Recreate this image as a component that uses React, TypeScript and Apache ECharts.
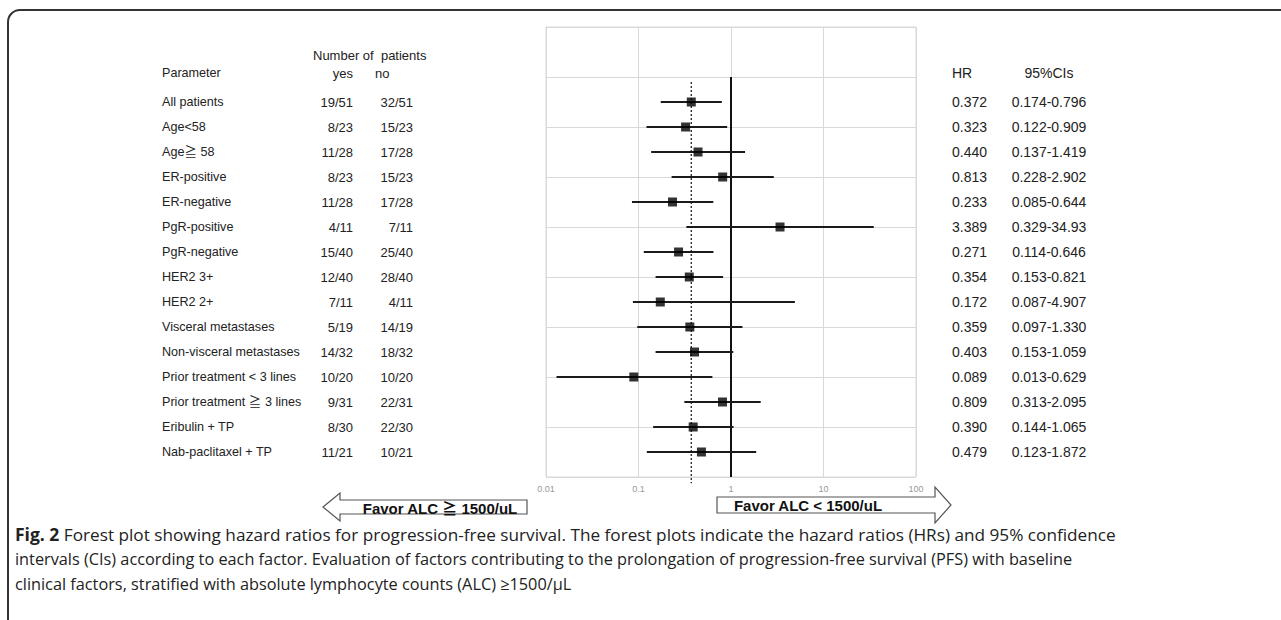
import React, { useEffect, useRef } from "react";
import * as echarts from "echarts";

// ---------------- data ----------------
const parameters = [
  "All patients",
  "Age<58",
  "Age≧ 58",
  "ER-positive",
  "ER-negative",
  "PgR-positive",
  "PgR-negative",
  "HER2 3+",
  "HER2 2+",
  "Visceral metastases",
  "Non-visceral metastases",
  "Prior treatment < 3 lines",
  "Prior treatment ≧ 3 lines",
  "Eribulin + TP",
  "Nab-paclitaxel + TP",
];
const yesCounts = ["19/51", "8/23", "11/28", "8/23", "11/28", "4/11", "15/40", "12/40", "7/11", "5/19", "14/32", "10/20", "9/31", "8/30", "11/21"];
const noCounts = ["32/51", "15/23", "17/28", "15/23", "17/28", "7/11", "25/40", "28/40", "4/11", "14/19", "18/32", "10/20", "22/31", "22/30", "10/21"];
const hrValues = [0.372, 0.323, 0.44, 0.813, 0.233, 3.389, 0.271, 0.354, 0.172, 0.359, 0.403, 0.089, 0.809, 0.39, 0.479];
const ciLower = [0.174, 0.122, 0.137, 0.228, 0.085, 0.329, 0.114, 0.153, 0.087, 0.097, 0.153, 0.013, 0.313, 0.144, 0.123];
const ciUpper = [0.796, 0.909, 1.419, 2.902, 0.644, 34.93, 0.646, 0.821, 4.907, 1.33, 1.059, 0.629, 2.095, 1.065, 1.872];
// row positions on the (inverted) y value axis
const rowPositions = [3, 4, 5, 6, 7, 8, 9, 10, 11, 12, 13, 14, 15, 16, 17];
const xTickLabels = ["0.01", "0.1", "1", "10", "100"];
// reference lines: [x value, y start, y end, dotted?]
const refLines = [
  [1, 2, 18, 0],
  [hrValues[0], 2.2, 18.25, 1],
];

const fmt = (v: number) => (v >= 10 ? v.toFixed(2) : v.toFixed(3));

const FONT = 'Arial, "Liberation Sans", "Noto Sans CJK JP", sans-serif';
const CAP_FONT = '"Open Sans", sans-serif';

export default function App() {
  const ref = useRef<HTMLDivElement>(null);
  useEffect(() => {
    if (!ref.current) return;
    const chart = echarts.init(ref.current, undefined, { renderer: "svg" });

    const txt = (text: string, x: number, y: number, align: string, extra: any = {}) => ({
      type: "text",
      x,
      y,
      style: {
        text,
        fill: "#222",
        fontSize: 13,
        fontFamily: FONT,
        align,
        verticalAlign: "middle",
        ...extra,
      },
    });

    const capLine = (text: string, y: number, size: number, rich?: any) => ({
      type: "text",
      x: 15,
      y,
      style: {
        text,
        fill: "#222",
        fontSize: size,
        fontFamily: CAP_FONT,
        verticalAlign: "middle",
        ...(rich ? { rich } : {}),
      },
    });

    const option: any = {
      animation: false,
      backgroundColor: "#fff",
      grid: {
        left: 546,
        top: 27,
        width: 370,
        height: 450,
        show: true,
        borderColor: "#d9d9d9",
        borderWidth: 1,
      },
      xAxis: {
        type: "log",
        logBase: 10,
        min: 0.01,
        max: 100,
        axisLine: { show: false },
        axisTick: { show: false },
        splitLine: { show: true, lineStyle: { color: "#d9d9d9", width: 1 } },
        axisLabel: {
          color: "#999",
          fontSize: 9,
          fontFamily: FONT,
          margin: 7,
          formatter: (v: number) => xTickLabels[Math.round(Math.log10(v)) + 2] ?? "",
        },
      },
      yAxis: {
        type: "value",
        min: 0,
        max: 18,
        interval: 2,
        inverse: true,
        axisLine: { show: false },
        axisTick: { show: false },
        axisLabel: { show: false },
        splitLine: { show: true, lineStyle: { color: "#d9d9d9", width: 1 } },
      },
      series: [
        {
          type: "custom",
          name: "refLines",
          clip: false,
          z: 2,
          data: refLines,
          renderItem: (params: any, api: any) => {
            const p1 = api.coord([api.value(0), api.value(1)]);
            const p2 = api.coord([api.value(0), api.value(2)]);
            const dotted = api.value(3) === 1;
            return {
              type: "line",
              shape: { x1: p1[0], y1: p1[1], x2: p2[0], y2: p2[1] },
              style: dotted
                ? { stroke: "#222", lineWidth: 1.3, lineDash: [2, 2] }
                : { stroke: "#111", lineWidth: 2 },
            };
          },
        },
        {
          type: "custom",
          name: "ci",
          z: 3,
          clip: false,
          data: rowPositions.map((y, i) => [ciLower[i], ciUpper[i], y]),
          renderItem: (params: any, api: any) => {
            const p1 = api.coord([api.value(0), api.value(2)]);
            const p2 = api.coord([api.value(1), api.value(2)]);
            return {
              type: "line",
              shape: { x1: p1[0], y1: p1[1], x2: p2[0], y2: p2[1] },
              style: { stroke: "#1a1a1a", lineWidth: 1.9 },
            };
          },
        },
        {
          type: "scatter",
          name: "HR",
          z: 4,
          symbol: "rect",
          symbolSize: 9,
          itemStyle: { color: "#000" },
          data: rowPositions.map((y, i) => [hrValues[i], y]),
        },
        {
          type: "custom",
          name: "table",
          clip: false,
          z: 5,
          data: rowPositions.map((y) => [1, y]),
          renderItem: (params: any, api: any) => {
            const i = params.dataIndex;
            const yy = api.coord([1, api.value(1)])[1];
            return {
              type: "group",
              children: [
                txt(parameters[i], 162, yy, "left", { fontSize: 12.6 }),
                txt(yesCounts[i], 353, yy, "right"),
                txt(noCounts[i], 413, yy, "right"),
                txt(fmt(hrValues[i]), 952, yy, "left", { fontSize: 14 }),
                txt(fmt(ciLower[i]) + "-" + fmt(ciUpper[i]), 1049, yy, "center", { fontSize: 14 }),
              ],
            };
          },
        },
      ],
      graphic: [
        // frame
        {
          type: "rect",
          shape: { x: 8, y: 10, width: 1400, height: 700, r: [12, 0, 0, 0] },
          style: { fill: "none", stroke: "#333", lineWidth: 2 },
          silent: true,
        },
        // headers
        txt("Number of  patients", 313, 55, "left"),
        txt("Parameter", 162, 73, "left", { fontSize: 12.6 }),
        txt("yes", 353, 73, "right"),
        txt("no", 375, 73, "left"),
        txt("HR", 952, 73, "left", { fontSize: 14 }),
        txt("95%CIs", 1049, 73, "center", { fontSize: 14 }),
        // arrows
        {
          type: "polygon",
          shape: {
            points: [
              [323, 507], [340, 493], [340, 500], [527, 500], [527, 514], [340, 514], [340, 521],
            ],
          },
          style: { fill: "#fff", stroke: "#555", lineWidth: 1.2 },
        },
        txt("Favor ALC ≧ 1500/uL", 440, 508, "center", { fontSize: 15, fontWeight: "bold", fill: "#111" }),
        {
          type: "polygon",
          shape: {
            points: [
              [717, 497], [935, 497], [935, 487], [951, 505], [935, 523], [935, 513], [717, 513],
            ],
          },
          style: { fill: "#fff", stroke: "#555", lineWidth: 1.2 },
        },
        txt("Favor ALC < 1500/uL", 808, 505, "center", { fontSize: 15, fontWeight: "bold", fill: "#111" }),
        // caption
        capLine(
          "{b|Fig. 2} Forest plot showing hazard ratios for progression-free survival. The forest plots indicate the hazard ratios (HRs) and 95% confidence",
          534,
          17.2,
          { b: { fontWeight: "bold", fontSize: 17.5, fontFamily: CAP_FONT, fill: "#222" } }
        ),
        capLine(
          "intervals (CIs) according to each factor. Evaluation of factors contributing to the prolongation of progression-free survival (PFS) with baseline",
          559,
          16.3
        ),
        capLine("clinical factors, stratified with absolute lymphocyte counts (ALC) ≥1500/μL", 584, 16.3),
      ],
    };

    chart.setOption(option);
    return () => chart.dispose();
  }, []);

  return (
    <div
      ref={ref}
      style={{ position: "fixed", left: 0, top: 0, width: 1281, height: 620, background: "#fff" }}
    />
  );
}
